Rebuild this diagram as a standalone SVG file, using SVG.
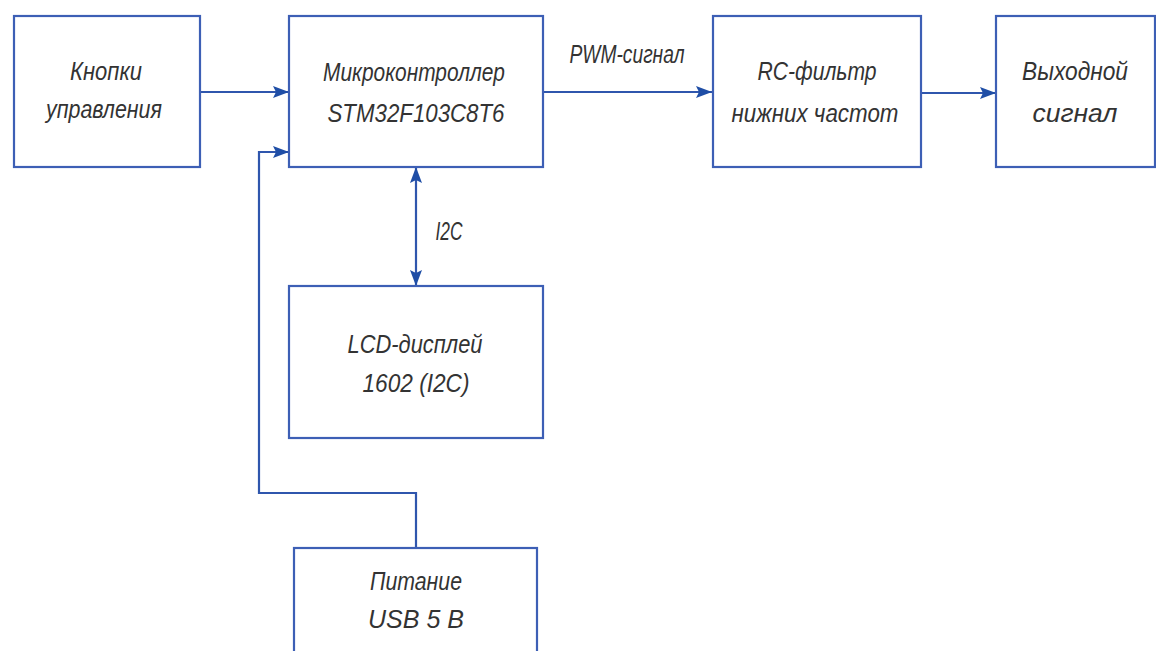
<svg xmlns="http://www.w3.org/2000/svg" width="1156" height="651" viewBox="0 0 1156 651">
<defs>
<style>
.box{fill:#ffffff;stroke:#3d5fb5;stroke-width:2.2}
.ln{fill:none;stroke:#2f56ad;stroke-width:2.2}
text{font-family:"Liberation Sans","DejaVu Sans",sans-serif;font-style:italic;font-size:25px;fill:#333333;text-anchor:middle}
</style>
<marker id="ah" viewBox="0 0 16 12" refX="16" refY="6" markerWidth="16" markerHeight="12" markerUnits="userSpaceOnUse" orient="auto-start-reverse">
<path d="M0,0 L16,6 L0,12 L3,6 z" fill="#1f4ea6"/>
</marker>
</defs>
<rect width="1156" height="651" fill="#ffffff"/>
<g id="connectors">
<line class="ln" x1="200" y1="92" x2="289" y2="92" marker-end="url(#ah)"/>
<line class="ln" x1="543" y1="92" x2="712" y2="92" marker-end="url(#ah)"/>
<line class="ln" x1="921" y1="93" x2="996" y2="93" marker-end="url(#ah)"/>
<line class="ln" x1="416" y1="167" x2="416" y2="286" marker-start="url(#ah)" marker-end="url(#ah)"/>
<polyline class="ln" points="416,548 416,493 259,493 259,152 289,152" marker-end="url(#ah)"/>
<text x="627" y="63" textLength="115" lengthAdjust="spacingAndGlyphs">PWM-сигнал</text>
<text x="449" y="240" textLength="27" lengthAdjust="spacingAndGlyphs">I2C</text>
</g>
<g id="node-buttons">
<rect class="box" x="14" y="16" width="186" height="151"/>
<text x="106" y="80" textLength="72" lengthAdjust="spacingAndGlyphs">Кнопки</text>
<text x="104" y="118" textLength="116" lengthAdjust="spacingAndGlyphs">управления</text>
</g>
<g id="node-mcu">
<rect class="box" x="289" y="16" width="254" height="151"/>
<text x="414" y="81" textLength="182" lengthAdjust="spacingAndGlyphs">Микроконтроллер</text>
<text x="416" y="122" textLength="177" lengthAdjust="spacingAndGlyphs">STM32F103C8T6</text>
</g>
<g id="node-rc">
<rect class="box" x="713" y="16" width="208" height="151"/>
<text x="817" y="80" textLength="119" lengthAdjust="spacingAndGlyphs">RC-фильтр</text>
<text x="815" y="122" textLength="167" lengthAdjust="spacingAndGlyphs">нижних  частот</text>
</g>
<g id="node-out">
<rect class="box" x="996" y="16" width="159" height="151"/>
<text x="1075" y="80" textLength="106" lengthAdjust="spacingAndGlyphs">Выходной</text>
<text x="1075" y="122" textLength="85" lengthAdjust="spacingAndGlyphs">сигнал</text>
</g>
<g id="node-lcd">
<rect class="box" x="289" y="286" width="254" height="152"/>
<text x="415" y="353" textLength="135" lengthAdjust="spacingAndGlyphs">LCD-дисплей</text>
<text x="416" y="392" textLength="107" lengthAdjust="spacingAndGlyphs">1602 (I2C)</text>
</g>
<g id="node-power">
<rect class="box" x="294" y="548" width="243" height="110"/>
<text x="416" y="590" textLength="92" lengthAdjust="spacingAndGlyphs">Питание</text>
<text x="416" y="628" textLength="96" lengthAdjust="spacingAndGlyphs">USB  5  B</text>
</g>
</svg>
